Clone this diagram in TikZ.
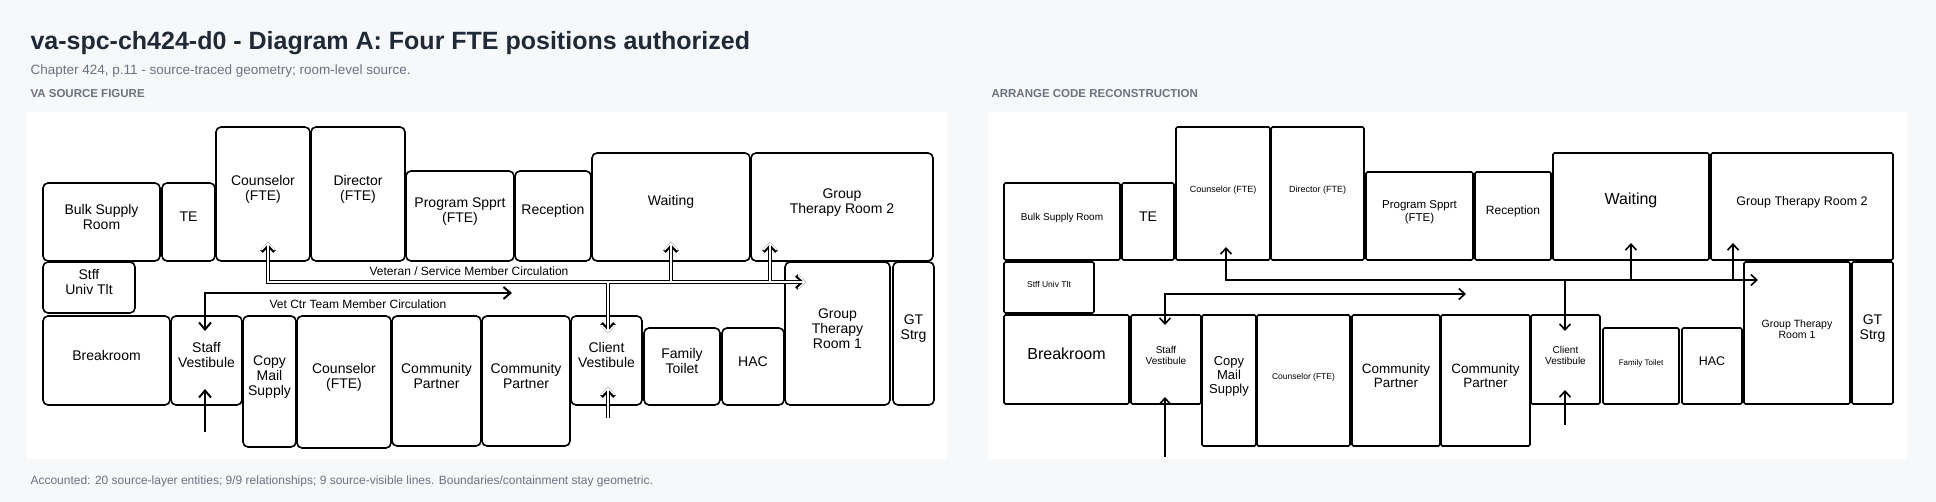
\documentclass[tikz,border=0pt]{standalone}
\usepackage{fontspec}
\setmainfont{Liberation Sans}
\usetikzlibrary{fit,arrows.meta}
\definecolor{bg}{HTML}{F7F8FA}
\definecolor{ttl}{HTML}{1F2937}
\definecolor{sub}{HTML}{6B7280}
\newcommand\rmbox[7][]{%
  \coordinate (#2-a) at (#3,#4); \coordinate (#2-b) at (#5,#6);
  \node[box,#1,fit=(#2-a)(#2-b)] (#2) {#7};}
\begin{document}
\begin{tikzpicture}[x=1pt,y=-1pt,
  box/.style={draw,line width=1.6pt,inner sep=0pt,align=center,font=\fontsize{14}{15}\selectfont},
  L/.style={rounded corners=5pt},
  R/.style={rounded corners=1.5pt},
  vetb/.style={line width=3.6pt,line join=miter},
  vetw/.style={line width=1.4pt,white,line join=miter},
  vtip/.style={-{Straight Barb[length=7pt,width=13pt]}},
  stf/.style={line width=2pt,-{Straight Barb[length=7pt,width=12pt]}},
  stfr/.style={line width=1.6pt,-{Straight Barb[length=6pt,width=11pt]}}]
\fill[bg] (0,0) rectangle (1936,502);
\useasboundingbox (0,0) rectangle (1936,502);
\node[anchor=west,font=\fontsize{25}{28}\bfseries\selectfont,text=ttl] (title) at (27,43) {va-spc-ch424-d0 - Diagram A: Four FTE positions authorized};
\node[anchor=west,font=\fontsize{13.5}{15}\selectfont,text=sub] (subt) at (27,71) {Chapter 424, p.11 - source-traced geometry; room-level source.};
\node[anchor=west,font=\fontsize{11.5}{13}\bfseries\selectfont,text=sub] (h1) at (27,94) {VA SOURCE FIGURE};
\node[anchor=west,font=\fontsize{11.5}{13}\bfseries\selectfont,text=sub] (h2) at (988,94) {ARRANGE CODE RECONSTRUCTION};
\node[anchor=west,font=\fontsize{12}{13}\selectfont,text=sub] (foot) at (27,481) {Accounted: 20 source-layer entities; 9/9 relationships; 9 source-visible lines. Boundaries/containment stay geometric.};
\fill[white] (27,112) rectangle (947,459);
\fill[white] (988,112) rectangle (1907,459);
% ---------- left ----------
\rmbox[L]{lbulk}{43}{183}{160}{261}{Bulk Supply\\Room}
\rmbox[L]{lte}{162}{183}{215}{261}{TE}
\rmbox[L]{lcou}{216}{127}{310}{261}{Counselor\\(FTE)\\[48pt]}
\rmbox[L]{ldir}{311}{127}{405}{261}{Director\\(FTE)\\[48pt]}
\rmbox[L]{lprog}{406}{171}{514}{261}{Program Spprt\\(FTE)}
\rmbox[L]{lrec}{515}{171}{591}{261}{Reception}
\rmbox[L]{lwait}{592}{153}{750}{261}{Waiting\\[30pt]}
\rmbox[L]{lgt2}{751}{153}{933}{261}{Group\\Therapy Room 2\\[20pt]}
\rmbox[L]{lstff}{43}{262}{135}{313}{Stff\\Univ Tlt}
\rmbox[L]{lbreak}{43}{316}{170}{405}{Breakroom}
\rmbox[L]{lsv}{171}{316}{242}{405}{Staff\\Vestibule}
\rmbox[L]{lcopy}{243}{316}{296}{447}{Copy\\Mail\\Supply\\[24pt]}
\rmbox[L]{lcou2}{297}{316}{391}{448}{Counselor\\(FTE)\\[22pt]}
\rmbox[L]{lcp1}{392}{316}{481}{446}{Community\\Partner\\[22pt]}
\rmbox[L]{lcp2}{482}{316}{570}{446}{Community\\Partner\\[22pt]}
\rmbox[L]{lcv}{571}{316}{642}{405}{Client\\Vestibule}
\rmbox[L]{lft}{644}{328}{720}{405}{Family\\Toilet}
\rmbox[L]{lhac}{722}{328}{784}{405}{HAC}
\rmbox[L]{lgt1}{785}{262}{890}{405}{Group\\Therapy\\Room 1\\[20pt]}
\rmbox[L]{lgts}{893}{262}{934}{405}{GT\\Strg\\[22pt]}
% veteran circulation (hollow double lines)
\foreach \s in {vetb,vetw}{
  \draw[\s] (268,250) -- (268,282) -- (800,282);
  \draw[\s] (671,282) -- (671,250);
  \draw[\s] (770,282) -- (770,250);
  \draw[\s] (608,282) -- (608,325);
  \draw[\s] (608,418) -- (608,395);
  \draw[\s,vtip] (268,251) -- (268,242);
  \draw[\s,vtip] (671,251) -- (671,242);
  \draw[\s,vtip] (770,251) -- (770,242);
  \draw[\s,vtip] (799,282) -- (806,282);
  \draw[\s,vtip] (608,324) -- (608,333);
  \draw[\s,vtip] (608,396) -- (608,387);
}
\coordinate (lcin) at (608,418);
\node[font=\fontsize{12}{13}\selectfont,fill=white,inner sep=1pt] (lvetlab) at (469,271) {Veteran / Service Member Circulation};
\draw[line width=2pt,{Straight Barb[length=7pt,width=12pt]}-{Straight Barb[length=7pt,width=12pt]}] (205,331) -- (205,293) -- (512,293);
\coordinate (lsin) at (205,432);
\draw[stf] (lsin) -- (205,389);
\node[font=\fontsize{12}{13}\selectfont] (lstflab) at (358,304) {Vet Ctr Team Member Circulation};
% ---------- right ----------
\rmbox[R,font=\fontsize{10}{11}\selectfont]{rbulk}{1004}{183}{1120}{260}{Bulk Supply Room}
\rmbox[R]{rte}{1122}{183}{1174}{260}{TE}
\rmbox[R,font=\fontsize{9}{10}\selectfont]{rcou}{1176}{127}{1270}{260}{Counselor (FTE)\\[46pt]}
\rmbox[R,font=\fontsize{9}{10}\selectfont]{rdir}{1271}{127}{1364}{260}{Director (FTE)\\[46pt]}
\rmbox[R,font=\fontsize{11.5}{12.5}\selectfont]{rprog}{1366}{172}{1473}{260}{Program Spprt\\(FTE)}
\rmbox[R,font=\fontsize{12}{13}\selectfont]{rrec}{1475}{172}{1551}{260}{Reception}
\rmbox[R,font=\fontsize{16}{17}\selectfont]{rwait}{1553}{153}{1709}{260}{Waiting\\[30pt]}
\rmbox[R,font=\fontsize{12.5}{13.5}\selectfont]{rgt2}{1711}{153}{1893}{260}{Group Therapy Room 2\\[30pt]}
\rmbox[R,font=\fontsize{8.5}{9.5}\selectfont]{rstff}{1004}{262}{1094}{313}{Stff Univ Tlt}
\rmbox[R,font=\fontsize{16}{17}\selectfont]{rbreak}{1004}{315}{1129}{404}{Breakroom}
\rmbox[R,font=\fontsize{10}{11}\selectfont]{rsv}{1131}{315}{1201}{404}{Staff\\Vestibule}
\rmbox[R,font=\fontsize{13}{14}\selectfont]{rcopy}{1202}{315}{1256}{446}{Copy\\Mail\\Supply\\[24pt]}
\rmbox[R,font=\fontsize{8.5}{9.5}\selectfont]{rcou2}{1257}{315}{1350}{446}{Counselor (FTE)\\[22pt]}
\rmbox[R,font=\fontsize{13.5}{14.5}\selectfont]{rcp1}{1352}{315}{1440}{446}{Community\\Partner\\[22pt]}
\rmbox[R,font=\fontsize{13.5}{14.5}\selectfont]{rcp2}{1441}{315}{1530}{446}{Community\\Partner\\[22pt]}
\rmbox[R,font=\fontsize{10}{11}\selectfont]{rcv}{1531}{315}{1600}{404}{Client\\Vestibule}
\rmbox[R,font=\fontsize{8}{9}\selectfont]{rft}{1603}{328}{1679}{404}{Family Toilet}
\rmbox[R,font=\fontsize{12.5}{13.5}\selectfont]{rhac}{1682}{328}{1742}{404}{HAC}
\rmbox[R,font=\fontsize{10.5}{11.5}\selectfont]{rgt1}{1744}{262}{1850}{404}{Group Therapy\\Room 1\\[24pt]}
\rmbox[R,font=\fontsize{14}{15}\selectfont]{rgts}{1852}{262}{1893}{404}{GT\\Strg\\[22pt]}
\draw[stfr,{Straight Barb[length=6pt,width=11pt]}-{Straight Barb[length=6pt,width=11pt]}] (1226,247) -- (1226,280) -- (1758,280);
\draw[stfr] (1631,280) -- (1631,243);
\draw[stfr] (1733,280) -- (1733,243);
\draw[stfr] (1565,280) -- (1565,331);
\coordinate (rcin) at (1565,425);
\draw[stfr] (rcin) -- (1565,390);
\draw[stfr,{Straight Barb[length=6pt,width=11pt]}-{Straight Barb[length=6pt,width=11pt]}] (1165,325) -- (1165,294) -- (1466,294);
\coordinate (rsin) at (1165,457);
\draw[stfr] (rsin) -- (1165,397);
\end{tikzpicture}
\end{document}
